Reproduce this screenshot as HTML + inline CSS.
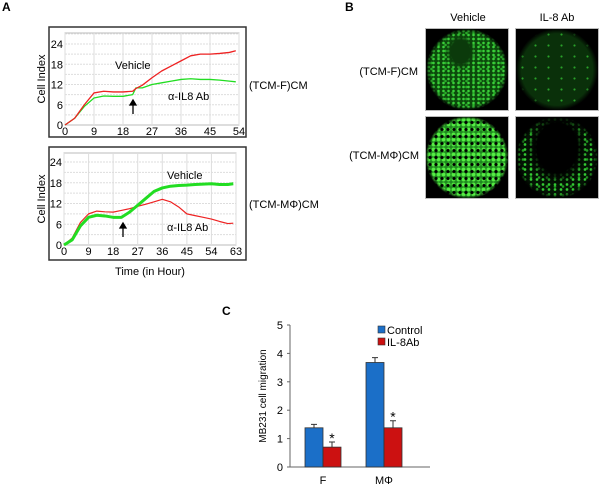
<!DOCTYPE html>
<html><head><meta charset="utf-8"><style>
body{margin:0;background:#fff;width:600px;height:485px;overflow:hidden;font-family:"Liberation Sans",sans-serif;}
svg{position:absolute;left:0;top:0}
.img{position:absolute;background:#000;border:1px solid #bbb;box-sizing:border-box}
</style></head><body>
<div class="img" style="left:425px;top:28px;width:84px;height:83px;background:radial-gradient(ellipse at 42% 28%,#0b3a0b 0 14%,transparent 22%),radial-gradient(circle,transparent 64%,#000 71%),radial-gradient(circle,#3ad03a 0 1px,transparent 1.6px) 0 0/5px 4px,radial-gradient(circle,#2aa82a 0 1px,transparent 1.6px) 2px 1px/7px 6px,#0c4a0c"></div>
<div class="img" style="left:515px;top:28px;width:84px;height:83px;background:radial-gradient(circle,transparent 62%,#000 71%),radial-gradient(circle,#2aa02a 0 0.8px,transparent 1.3px) 0 0/13px 11px,#0a300a"></div>
<div class="img" style="left:425px;top:116px;width:84px;height:83px;background:radial-gradient(circle,transparent 66%,#000 72%),radial-gradient(circle,#000 0 1.2px,transparent 2px) 1px 2px/6px 7px,radial-gradient(circle,#55ee44 0 1.5px,transparent 2.4px) 0 0/5px 5px,#1f8a1f"></div>
<div class="img" style="left:515px;top:116px;width:84px;height:83px;background:radial-gradient(ellipse at 50% 38%,#000 0 35%,transparent 52%),radial-gradient(circle,transparent 62%,#000 71%),radial-gradient(circle,#33cc33 0 1px,transparent 1.7px) 0 0/6px 5px,radial-gradient(circle,#229922 0 1px,transparent 1.6px) 3px 2px/8px 9px,#041404"></div>
<svg id="s" width="600" height="485" xmlns="http://www.w3.org/2000/svg" font-family="Liberation Sans, sans-serif">
<text x="2" y="11" font-size="12" font-weight="bold">A</text>
<text x="345" y="11" font-size="12" font-weight="bold">B</text>
<text x="222" y="315" font-size="12" font-weight="bold">C</text>
<text x="468" y="21" font-size="11" text-anchor="middle">Vehicle</text>
<text x="557" y="21" font-size="11" text-anchor="middle">IL-8 Ab</text>
<text x="418" y="75" font-size="11" text-anchor="end">(TCM-F)CM</text>
<text x="419" y="159" font-size="11" text-anchor="end">(TCM-MΦ)CM</text>
<text x="249" y="89" font-size="11">(TCM-F)CM</text>
<text x="249" y="208" font-size="11">(TCM-MΦ)CM</text>
<text x="150" y="275" font-size="11" text-anchor="middle">Time (in Hour)</text>
<g id="g"></g>
</svg>
<script>
const topHours=[0,3,6,9,12,15,18,21,22,24,27,30,33,36,39,42,45,48,51,53];
const topVehicle=[0,2,6,9.5,10,9.8,9.8,10,10.8,11.8,14,16,17.5,19,20.5,21,21,21.2,21.5,22];
const topAb=[0,2,5.5,8,8.6,8.5,8.5,9,11,11,12,12.5,13,13.5,13.7,13.5,13.5,13.3,13,12.8];
const topTicks=[0,9,18,27,36,45,54];
const botHours=[0,3,6,9,12,15,18,21,24,27,30,33,36,39,42,45,48,51,54,57,60,62];
const botAb=[0,2,6.5,9,9.8,9.6,9.5,10,10.5,11.2,11.8,12.5,13.2,12.5,11,9,8.5,8,7.5,6.8,6.2,6.3];
const botVehicle=[0,1.5,5.5,8,8.6,8.4,8,8,9.5,11.5,13.5,15.5,16.5,17,17.2,17.3,17.5,17.6,17.7,17.5,17.5,17.7];
const botTicks=[0,9,18,27,36,45,54,63];
const yTicks=[0,6,12,18,24];
const groups=["F","MΦ"];
const control=[1.38,3.68];
const ab=[0.7,1.38];
const controlErr=[0.12,0.17];
const abErr=[0.18,0.25];
const cTicks=[0,1,2,3,4,5];
const NS="http://www.w3.org/2000/svg",G=document.getElementById('g');
function mk(t,a,txt){const e=document.createElementNS(NS,t);for(const k in a)e.setAttribute(k,a[k]);if(txt!==undefined)e.textContent=txt;G.appendChild(e);return e;}
function panel(o){
 const xs=v=>o.x0+(v/o.xmax)*(o.x1-o.x0), ys=v=>o.y0-(v/24)*(o.y0-o.y24);
 const box=mk('rect',{x:o.bx,y:o.by,width:o.bw,height:o.bh,fill:'#fff',stroke:'#333','stroke-width':1.5});
 
 const pa=mk('rect',{x:o.x0,y:o.pt,width:o.x1-o.x0,height:o.y0-o.pt,fill:'none',stroke:'#bbb'});
 
 for(let v=3;v<=27;v+=3){const y=ys(v);if(y<o.pt)break;const l=mk('line',{x1:o.x0,x2:o.x1,y1:y,y2:y,stroke:'#ddd','stroke-dasharray':'2,1'});}
 o.ticks.forEach(t=>{const x=xs(t);const l=mk('line',{x1:x,x2:x,y1:o.pt,y2:o.y0,stroke:'#ddd'});
  const tx=mk('text',{x:x,y:o.y0+10,'font-size':11,'text-anchor':'middle'},t);});
 yTicks.forEach(t=>{const tx=mk('text',{x:o.x0-2,y:ys(t)+4,'font-size':11,'text-anchor':'end'},t);});
 const yt=mk('text',{x:0,y:0,'font-size':11,'text-anchor':'middle',transform:`translate(45,${(o.y0+o.pt)/2}) rotate(-90)`},'Cell Index');
 
 o.series.forEach(s=>{const p=mk('polyline',{points:o.hours.map((h,i)=>xs(h)+','+ys(s.v[i])).join(' '),fill:'none',stroke:s.c,'stroke-width':s.w,'stroke-linejoin':'round'});});
 const ar=mk('path',{d:`M${o.ax},${o.ay+14}V${o.ay+4}M${o.ax-3},${o.ay+5}L${o.ax},${o.ay}L${o.ax+3},${o.ay+5}Z`,stroke:'#000','stroke-width':1.3,fill:'#000'});
 const t1=mk('text',{x:o.vx,y:o.vy,'font-size':11},'Vehicle');
 const t2=mk('text',{x:o.ix,y:o.iy,'font-size':11},'α-IL8 Ab');
}
panel({name:'top-chart',bx:49,by:27,bw:197,bh:110,x0:65,x1:239,pt:33,y0:125,y24:44,xmax:54,ticks:topTicks,hours:topHours,
 series:[{v:topAb,c:'#22dd22',w:1.3,n:'ab-line-top'},{v:topVehicle,c:'#ee2222',w:1.3,n:'vehicle-line-top'}],ax:133,ay:100,vx:115,vy:69,ix:168,iy:100});
panel({name:'bottom-chart',bx:49,by:147,bw:197,bh:113,x0:64,x1:236,pt:153,y0:245,y24:162,xmax:63,ticks:botTicks,hours:botHours,
 series:[{v:botAb,c:'#ee2222',w:1.2,n:'ab-line-bottom'},{v:botVehicle,c:'#22dd22',w:3,n:'vehicle-line-bottom'}],ax:123,ay:223,vx:167,vy:179,ix:167,iy:231});
const cy=v=>467-v*28.4, bw=18, gx=[305,366];
const ax1=mk('line',{x1:290,x2:290,y1:325,y2:467,stroke:'#666'});
const ax2=mk('line',{x1:290,x2:430,y1:467,y2:467,stroke:'#666'});
cTicks.forEach(t=>{const l=mk('line',{x1:287,x2:290,y1:cy(t),y2:cy(t),stroke:'#666'});
 const tx=mk('text',{x:283,y:cy(t)+4,'font-size':11,'text-anchor':'end'},t);});
const yt=mk('text',{x:0,y:0,'font-size':10,'text-anchor':'middle',transform:'translate(266,396) rotate(-90)'},'MB231 cell migration');
groups.forEach((g,i)=>{
 [[control,controlErr,'#1b6fc8','control-bar'],[ab,abErr,'#cc1111','ab-bar']].forEach((s,j)=>{
  const x=gx[i]+j*bw, v=s[0][i], e=s[1][i];
  const eb=mk('path',{d:`M${x+bw/2},${cy(v)}V${cy(v+e)}M${x+bw/2-3},${cy(v+e)}H${x+bw/2+3}`,stroke:'#333','stroke-width':1});
  const r=mk('rect',{x:x,y:cy(v),width:bw,height:cy(0)-cy(v),fill:s[2],stroke:'#333','stroke-width':0.8});
  if(j===1){const st=mk('text',{x:x+bw/2,y:cy(v+e)+1,'font-size':14,'text-anchor':'middle'},'*');}
 });
 const lb=mk('text',{x:gx[i]+bw,y:484,'font-size':11,'text-anchor':'middle'},g);
});
[['#1b6fc8','Control',330],['#cc1111','IL-8Ab',342]].forEach(l=>{
 const r=mk('rect',{x:378,y:l[2]-4,width:7,height:7,fill:l[0],stroke:'#333','stroke-width':0.6});
 const t=mk('text',{x:387,y:l[2]+4,'font-size':11},l[1]);
});
</script>
</body></html>
